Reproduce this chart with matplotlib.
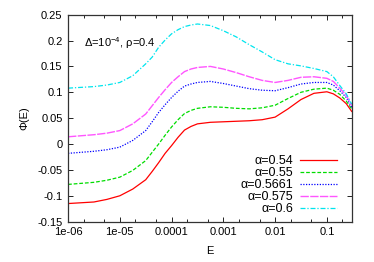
import numpy as np
import matplotlib
matplotlib.use("Agg")
import matplotlib.pyplot as plt
from matplotlib.ticker import LogLocator, NullFormatter

plt.rcParams['font.family'] = ['Liberation Sans', 'DejaVu Sans']
plt.rcParams['mathtext.fontset'] = 'custom'
plt.rcParams['mathtext.rm'] = 'Liberation Sans'
plt.rcParams['mathtext.it'] = 'Liberation Sans:italic'

logE = [-6, -5.5, -5.25, -5, -4.75, -4.5, -4.375, -4.25, -4.125, -4, -3.875, -3.75, -3.625,
        -3.5, -3.25, -3, -2.75, -2.5, -2.25, -2, -1.75, -1.5, -1.25, -1, -0.875, -0.75,
        -0.625, -0.52]

phi_054 = [-0.115, -0.112, -0.107, -0.100, -0.087, -0.069, -0.053, -0.036, -0.018, -0.003,
           0.013, 0.027, 0.034, 0.039, 0.042, 0.043, 0.044, 0.045, 0.047, 0.052, 0.068,
           0.086, 0.098, 0.101, 0.097, 0.089, 0.078, 0.063]
phi_055 = [-0.078, -0.074, -0.070, -0.064, -0.051, -0.032, -0.016, 0.000, 0.017, 0.033,
           0.047, 0.059, 0.065, 0.069, 0.072, 0.071, 0.069, 0.068, 0.070, 0.075, 0.088,
           0.100, 0.106, 0.108, 0.104, 0.096, 0.083, 0.068]
phi_05661 = [-0.018, -0.014, -0.011, -0.006, 0.007, 0.026, 0.043, 0.061, 0.076, 0.090,
             0.102, 0.112, 0.116, 0.119, 0.121, 0.117, 0.112, 0.107, 0.104, 0.103, 0.109,
             0.116, 0.119, 0.119, 0.114, 0.103, 0.090, 0.071]
phi_0575 = [0.014, 0.018, 0.021, 0.026, 0.039, 0.058, 0.074, 0.090, 0.105, 0.119,
            0.130, 0.140, 0.145, 0.148, 0.150, 0.145, 0.138, 0.130, 0.123, 0.119, 0.123,
            0.129, 0.130, 0.127, 0.121, 0.108, 0.094, 0.074]
phi_06 = [0.108, 0.111, 0.114, 0.119, 0.132, 0.155, 0.168, 0.187, 0.201, 0.213,
          0.221, 0.227, 0.230, 0.232, 0.229, 0.219, 0.207, 0.192, 0.178, 0.163, 0.155,
          0.151, 0.146, 0.140, 0.130, 0.113, 0.097, 0.077]

labels = ['α=0.54', 'α=0.55', 'α=0.5661', 'α=0.575', 'α=0.6']
xticks = [1e-6, 1e-5, 1e-4, 1e-3, 1e-2, 1e-1]
xticklabels = ['1e-06', '1e-05', '0.0001', '0.001', '0.01', '0.1']
yticks = [-0.15, -0.1, -0.05, 0, 0.05, 0.1, 0.15, 0.2, 0.25]
yticklabels = ['-0.15', '-0.1', '-0.05', '0', '0.05', '0.1', '0.15', '0.2', '0.25']

E = 10.0 ** np.array(logE)

fig = plt.figure(figsize=(3.74, 2.62), dpi=100)
ax = fig.add_axes([0.182, 0.154, 0.758, 0.79])

ax.plot(E, phi_054, color='#ff0000', lw=0.9, ls='-', label=labels[0])
ax.plot(E, phi_055, color='#00dd00', lw=0.9, ls=(0, (3, 1.5)), label=labels[1])
ax.plot(E, phi_05661, color='#0000ff', lw=0.9, ls=(0, (1, 1.2)), label=labels[2])
ax.plot(E, phi_0575, color='#ff55ff', lw=1.0, ls=(0, (6, 1)), label=labels[3])
ax.plot(E, phi_06, color='#00e5ee', lw=0.9, ls=(0, (4, 1.5, 1, 1.5)), label=labels[4])

ax.set_xscale('log')
ax.set_xlim(1e-6, 0.3)
ax.set_ylim(-0.15, 0.25)
ax.set_xticks(xticks)
ax.set_xticklabels(xticklabels)
ax.xaxis.set_minor_locator(LogLocator(base=10, subs=(2, 5), numticks=20))
ax.xaxis.set_minor_formatter(NullFormatter())
ax.set_yticks(yticks)
ax.set_yticklabels(yticklabels)

ax.tick_params(which='both', direction='in', top=True, right=True, labelsize=8, pad=4)
ax.tick_params(which='major', length=3.5, width=0.6)
ax.tick_params(which='minor', length=2, width=0.6)
for s in ax.spines.values():
    s.set_linewidth(0.9)
    s.set_color('#333333')

ax.set_xlabel('E', fontsize=8, labelpad=6)
ax.set_ylabel('Φ(E)', fontsize=8, labelpad=6)

ax.text(0.055, 0.845, 'Δ=10$^{-4}$, ρ=0.4', transform=ax.transAxes, fontsize=8)

ax.legend(loc='lower right', bbox_to_anchor=(0.95, 0.03), frameon=False, fontsize=9,
          markerfirst=False, handlelength=3.0, handletextpad=0.55, labelspacing=0.0,
          borderaxespad=0.0, borderpad=0.0)

fig.savefig('out.png', dpi=100)
